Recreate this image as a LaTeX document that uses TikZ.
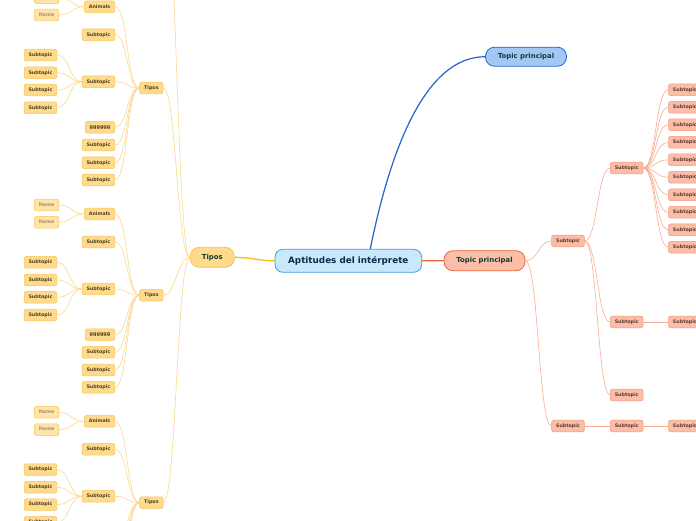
\documentclass[tikz,border=0pt]{standalone}
\usepackage{fontspec}
\setmainfont{DejaVu Sans}
\usepackage{tikz}
\usetikzlibrary{positioning}

\definecolor{rootfill}{HTML}{C8E9FA}
\definecolor{rootline}{HTML}{4A9AD4}
\definecolor{roottext}{HTML}{12284A}
\definecolor{bluefill}{HTML}{A4C8F6}
\definecolor{blueline}{HTML}{2463CC}
\definecolor{orgfill}{HTML}{FBBEA8}
\definecolor{orgline}{HTML}{EE6434}
\definecolor{topictext}{HTML}{0F3D33}
\definecolor{yfill}{HTML}{FEDB8C}
\definecolor{yline}{HTML}{F8C55A}
\definecolor{ytext}{HTML}{4F3F22}
\definecolor{ynametext}{HTML}{A89470}
\definecolor{ylink}{HTML}{FDD98F}
\definecolor{ymain}{HTML}{F6B90A}
\definecolor{rfill}{HTML}{FBBDA8}
\definecolor{rline}{HTML}{F59A80}
\definecolor{rtext}{HTML}{5E3A2E}
\definecolor{rlink}{HTML}{F8AC93}

\begin{document}
\begin{tikzpicture}[
  x=1pt, y=-1pt,
  root/.style={draw=rootline, fill=rootfill, rounded corners=8pt, line width=0.8pt,
               minimum width=146.7pt, minimum height=23pt, text=roottext,
               font=\fontsize{8.8}{10}\selectfont\bfseries},
  topic/.style={rounded corners=9pt, line width=0.8pt, minimum width=81pt,
                minimum height=20pt, text=topictext, font=\fontsize{6.9}{8}\selectfont\bfseries},
  ysub/.style={draw=yline, fill=yfill, rounded corners=2pt, line width=0.5pt,
               minimum height=11.7pt, inner xsep=4.4pt, inner ysep=0pt,
               text height=3.5pt, text depth=0.9pt, text=ytext,
               font=\fontsize{4.8}{5}\selectfont\bfseries},
  yname/.style={ysub, fill=yfill!75!white, text=ynametext},
  rsub/.style={ysub, draw=rline, fill=rfill, text=rtext},
  yedge/.style={draw=ylink, line width=0.6pt},
  redge/.style={draw=rlink, line width=0.6pt},
  lbranch/.style={out=180, in=0, distance=13pt},
  rbranch/.style={out=0, in=180, distance=13pt},
]
\useasboundingbox[fill=white] (0,0) rectangle (696,520);
\clip (0,0) rectangle (696,520);

% centre and main topics
\node[root] (root) at (348.3,260.8) {Aptitudes del intérprete};
\node[topic, draw=yline!90!orange, fill=yfill, minimum width=44pt] (tmain) at (212.3,257.3) {Tipos};
\node[topic, draw=orgline, fill=orgfill] (torg) at (484.5,260.7) {Topic principal};
\node[topic, draw=blueline, fill=bluefill, minimum height=19pt] (tblue) at (526,56.7) {Topic principal};

\draw[ymain, line width=1.2pt] (root.west) to[out=180, in=0] (tmain.east);
\draw[orgline, line width=1.2pt] (root.east) -- (torg.west);
\draw[blueline, line width=1.2pt] ([xshift=22pt]root.north) .. controls +(20,-99) and +(-60,0) .. (tblue.west);

% left side: Tipos groups
\coordinate (tip0) at (163.3,-119.3);
\draw[yedge] (tmain.west) to[lbranch] (tip0);
\foreach \k/\Y in {1/88, 2/295.3, 3/502.6} {
  \node[ysub, anchor=east] (tip\k) at (163.3,\Y) {Tipos};
  \node[ysub, anchor=east] (ani\k) at (115,\Y-81.3) {Animals};
  \node[yname, anchor=east] (nma\k) at (59,\Y-90.3) {Name};
  \node[yname, anchor=east] (nmb\k) at (59,\Y-73) {Name};
  \node[ysub, anchor=east] (sa\k) at (115,\Y-53.3) {Subtopic};
  \node[ysub, anchor=east] (sb\k) at (115,\Y-6.3) {Subtopic};
  \node[ysub, anchor=east] (gg\k) at (115,\Y+39.3) {gggggg};
  \draw[yedge] (tmain.west) to[lbranch] (tip\k.east);
  \draw[yedge] (tip\k.west) to[lbranch] (ani\k.east);
  \draw[yedge] (ani\k.west) to[lbranch] (nma\k.east);
  \draw[yedge] (ani\k.west) to[lbranch] (nmb\k.east);
  \draw[yedge] (tip\k.west) to[lbranch] (sa\k.east);
  \draw[yedge] (tip\k.west) to[lbranch] (sb\k.east);
  \draw[yedge] (tip\k.west) to[lbranch] (gg\k.east);
  \foreach \j/\d in {1/-33, 2/-15.3, 3/2, 4/19.7} {
    \node[ysub, anchor=east] (sb\k-\j) at (57,\Y+\d) {Subtopic};
    \draw[yedge] (sb\k.west) to[lbranch] (sb\k-\j.east);
  }
  \foreach \j/\d in {1/57, 2/74.7, 3/92} {
    \node[ysub, anchor=east] (sc\k-\j) at (115,\Y+\d) {Subtopic};
    \draw[yedge] (tip\k.west) to[lbranch] (sc\k-\j.east);
  }
}

% right side
\node[rsub] (ra) at (568,241) {Subtopic};
\node[rsub] (rb) at (568,426) {Subtopic};
\node[rsub] (rc) at (626.7,168) {Subtopic};
\node[rsub] (rd) at (626.7,322) {Subtopic};
\node[rsub] (re) at (626.7,395) {Subtopic};
\node[rsub] (rf) at (626.7,426) {Subtopic};
\node[rsub, anchor=west] (rg) at (668.3,322) {Subtopic};
\node[rsub, anchor=west] (rh) at (668.3,426) {Subtopic};

\draw[redge] (torg.east) to[rbranch] (ra.west);
\draw[redge] (torg.east) to[rbranch] (rb.west);
\draw[redge] (ra.east) to[rbranch] (rc.west);
\draw[redge] (ra.east) to[rbranch] (rd.west);
\draw[redge] (ra.east) to[rbranch] (re.west);
\draw[redge] (rb.east) -- (rf.west);
\draw[redge] (rd.east) -- (rg.west);
\draw[redge] (rf.east) -- (rh.west);
\foreach \i in {0,...,9} {
  \node[rsub, anchor=west] (rc\i) at (668.3,89.8+17.5*\i) {Subtopic};
  \draw[redge] (rc.east) to[rbranch] (rc\i.west);
}
\end{tikzpicture}
\end{document}
